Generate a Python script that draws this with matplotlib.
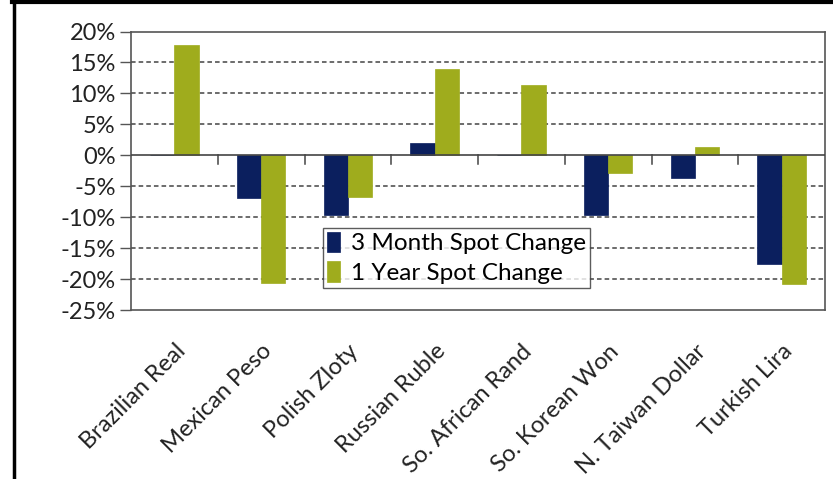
import matplotlib
matplotlib.use("Agg")
import matplotlib.pyplot as plt
import numpy as np
from matplotlib.lines import Line2D

categories = ["Brazilian Real", "Mexican Peso", "Polish Zloty", "Russian Ruble",
              "So. African Rand", "So. Korean Won", "N. Taiwan Dollar", "Turkish Lira"]
three_month = [0.0, -6.9, -9.6, 2.0, 0.0, -9.6, -3.6, -17.5]
one_year = [17.8, -20.6, -6.7, 14.0, 11.3, -2.8, 1.3, -20.8]
series_names = ["3 Month Spot Change", "1 Year Spot Change"]
yticks = [20, 15, 10, 5, 0, -5, -10, -15, -20, -25]

plt.rcParams['font.family'] = ['Lato', 'DejaVu Sans']

W, H = 833, 479
fig = plt.figure(figsize=(W / 100, H / 100), dpi=100)
ax = fig.add_axes([131 / W, 1 - 310 / H, (825 - 131) / W, (310 - 31.5) / H])

navy = "#0b1f5e"
green = "#9fac1d"
x = np.arange(len(categories))
bw = 0.28
ax.bar(x - bw / 2, three_month, bw, color=navy, edgecolor=navy, linewidth=0.5,
       label=series_names[0], zorder=3)
ax.bar(x + bw / 2, one_year, bw, color=green, edgecolor=green, linewidth=0.5,
       label=series_names[1], zorder=3)

ax.set_xlim(-0.5, len(categories) - 0.5)
ax.set_ylim(-25, 20)
ax.set_yticks(yticks)
ax.set_yticklabels([f"{v}%" for v in yticks], fontsize=17, color="#222222")
ax.tick_params(axis='y', length=8, width=1, color="#555555", pad=3, direction='out')

for v in yticks:
    if v not in (0, 20, -25):
        ax.axhline(v, color="#444444", linewidth=1.1, linestyle=(0, (3, 2)), zorder=1)
ax.axhline(0, color="#444444", linewidth=1.2, zorder=4)

ax.set_xticks(x)
ax.set_xticklabels(categories, rotation=45, ha='right', va='top',
                   rotation_mode='anchor', fontsize=17, color="#222222")
ax.tick_params(axis='x', length=0, pad=22)
for b in np.arange(0.5, len(categories) - 0.5, 1.0):
    ax.plot([b, b], [0, -1.45], color="#444444", linewidth=1.1, zorder=4)

for s in ax.spines.values():
    s.set_color("#555555")
    s.set_linewidth(1.2)

leg = ax.legend(loc='upper left', bbox_to_anchor=((323 - 131) / (825 - 131), 1 - (228 - 31.5) / (310 - 31.5)),
                fontsize=17.5, frameon=True, fancybox=False, edgecolor="#333333",
                handlelength=0.55, handleheight=0.9, handletextpad=0.45,
                borderpad=0.15, labelspacing=0.3, borderaxespad=0)
leg.get_frame().set_linewidth(1.0)
leg.set_zorder(5)

fig.add_artist(Line2D([13.5 / W, 13.5 / W], [0, 1 - 1.5 / H], color="black", linewidth=2.5,
                      transform=fig.transFigure))
fig.add_artist(Line2D([12 / W, 1], [1 - 1.5 / H, 1 - 1.5 / H], color="black", linewidth=3,
                      transform=fig.transFigure))

fig.savefig("out.png", dpi=100)
